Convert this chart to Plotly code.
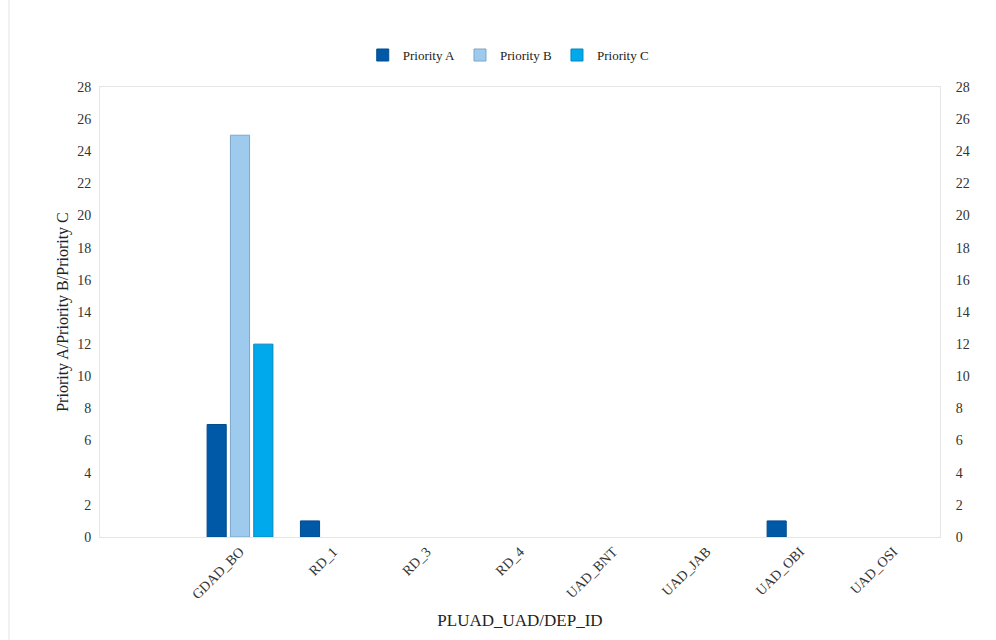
import plotly.graph_objects as go

categories = ["GDAD_BO", "RD_1", "RD_3", "RD_4", "UAD_BNT", "UAD_JAB", "UAD_OBI", "UAD_OSI"]
priority_a = [7, 1, 0, 0, 0, 0, 1, 0]
priority_b = [25, 0, 0, 0, 0, 0, 0, 0]
priority_c = [12, 0, 0, 0, 0, 0, 0, 0]
series_names = ["Priority A", "Priority B", "Priority C"]
y_ticks = list(range(0, 29, 2))

FONT = "Liberation Serif"
fill_colors = ["#0059A6", "#9ECAEE", "#00A9EC"]
line_colors = ["#004C8E", "#7DA6C8", "#0088BE"]

fig = go.Figure()
for name, vals, fc, lc in zip(series_names, [priority_a, priority_b, priority_c], fill_colors, line_colors):
    fig.add_trace(go.Bar(
        x=categories, y=vals, name=name,
        marker=dict(color=fc, line=dict(color=lc, width=[1 if v else 0 for v in vals])),
    ))

# invisible trace to anchor the right-hand axis
fig.add_trace(go.Scatter(x=categories, y=priority_a, yaxis="y2", mode="markers",
                         marker=dict(opacity=0), showlegend=False, hoverinfo="skip"))

axis_common = dict(range=[0, 28], tickvals=y_ticks, showgrid=False, zeroline=False,
                   tickfont=dict(family=FONT, size=14, color="#333333"),
                   ticks="outside", tickcolor="white", tickwidth=0)

fig.update_layout(
    width=996, height=640,
    margin=dict(l=100, r=56, t=87, b=103),
    paper_bgcolor="white", plot_bgcolor="white",
    font=dict(family=FONT, size=13, color="#222222"),
    barmode="group", bargap=0.25, bargroupgap=0.18,
    showlegend=True,
    legend=dict(orientation="h", x=0.486, xanchor="center", y=1.071, yanchor="middle",
                font=dict(family=FONT, size=13, color="#222222"),
                itemwidth=30, tracegroupgap=0, bgcolor="rgba(0,0,0,0)"),
    xaxis=dict(type="category", range=[-1.5, 7.5], tickangle=-45, showgrid=False,
               showline=True, linecolor="#E6E6E6", linewidth=1, mirror=True,
               ticks="", tickfont=dict(family=FONT, size=14, color="#333333"),
               title=dict(text="PLUAD_UAD/DEP_ID", font=dict(family=FONT, size=17, color="#222222"),
                          standoff=12)),
    yaxis=dict(**axis_common, ticklen=5, showline=True, linecolor="#E6E6E6", linewidth=1, mirror=True,
               title=dict(text="Priority A/Priority B/Priority C",
                          font=dict(family=FONT, size=16, color="#222222"), standoff=4)),
    yaxis2=dict(**axis_common, ticklen=12, overlaying="y", side="right", showline=False),
    shapes=[dict(type="line", xref="paper", yref="paper",
                 x0=(9 - 100) / 840, x1=(9 - 100) / 840, y0=-103 / 450, y1=1 + 87 / 450,
                 line=dict(color="#E3E3E3", width=1))],
)

fig.write_html("out.html")
